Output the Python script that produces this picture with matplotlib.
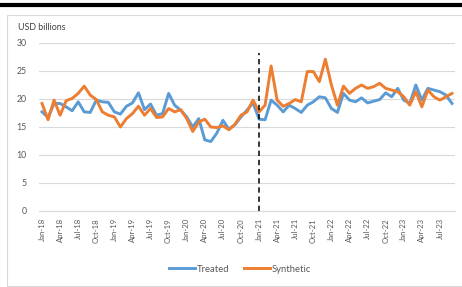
import matplotlib
matplotlib.use("Agg")
import matplotlib.pyplot as plt
from matplotlib.lines import Line2D
from matplotlib.patches import Rectangle
import pandas as pd

months = pd.date_range("2018-01-01", "2023-09-01", freq="MS")
month_labels = [d.strftime("%b-%y") for d in months]

treated = [17.7, 16.7, 19.2, 19.2, 18.6, 17.9, 19.5, 17.7, 17.6, 19.8, 19.5, 19.4,
           17.7, 17.3, 18.7, 19.3, 21.1, 18.1, 19.1, 17.1, 17.4, 21.0, 18.9, 18.0,
           16.8, 15.0, 16.5, 12.7, 12.4, 13.9, 16.2, 14.6, 15.4, 16.8, 18.0, 19.3,
           16.4, 16.3, 19.8, 18.9, 17.7, 18.9, 18.3, 17.6, 18.9, 19.5, 20.4, 20.2,
           18.3, 17.6, 21.0, 19.8, 19.5, 20.2, 19.3, 19.6, 19.9, 21.1, 20.4, 21.9,
           19.8, 19.2, 22.5, 19.8, 21.9, 21.6, 21.3, 20.7, 19.2]
synthetic = [19.2, 16.3, 19.8, 17.1, 19.7, 20.1, 21.0, 22.3, 20.7, 19.9, 17.7, 17.1,
             16.8, 15.0, 16.5, 17.4, 18.7, 17.1, 18.3, 16.7, 16.8, 18.3, 17.7, 18.1,
             16.5, 14.2, 15.9, 16.4, 15.0, 14.9, 15.2, 14.5, 15.5, 17.1, 17.7, 19.8,
             17.7, 18.9, 25.9, 19.8, 18.7, 19.2, 19.9, 19.5, 24.9, 24.9, 23.1, 27.1,
             22.5, 18.9, 22.3, 21.0, 21.9, 22.5, 21.9, 22.2, 22.8, 21.9, 21.6, 21.3,
             20.4, 18.9, 21.3, 18.6, 21.6, 20.4, 19.8, 20.4, 21.0]
treatment_start = "Jan-21"
series_names = ["Treated", "Synthetic"]
y_ticks = [0, 5, 10, 15, 20, 25, 30]

W, H = 462, 287
fig = plt.figure(figsize=(W / 100, H / 100), dpi=100)
plt.rcParams['font.family'] = ['Lato', 'DejaVu Sans']

# outer chart border and top black bar
fig.patches.append(Rectangle((7 / W, 1 - 286 / H), (W + 5 - 7) / W, (286 - 15) / H,
                             transform=fig.transFigure, fill=False,
                             edgecolor="#d9d9d9", linewidth=0.8))
fig.lines.append(Line2D([0, 1], [1 - 5 / H, 1 - 5 / H], transform=fig.transFigure,
                        color="black", linewidth=3))

ax = fig.add_axes([39 / W, 1 - 211 / H, (455 - 39) / W, (211 - 43) / H])
x = list(range(len(months)))
ax.plot(x, treated, color="#5B9BD5", linewidth=2.1, label=series_names[0],
        solid_joinstyle="round")
ax.plot(x, synthetic, color="#ED7D31", linewidth=2.1, label=series_names[1],
        solid_joinstyle="round")

xi = month_labels.index(treatment_start)
ax.plot([xi, xi], [0, 28.3], color="black", linewidth=1.1, linestyle=(0, (3.5, 2.5)))

ax.set_xlim(-0.5, len(months) - 0.5)
ax.set_ylim(0, 30)
ax.set_yticks(y_ticks)
ax.set_xticks(x[::3])
ax.set_xticklabels(month_labels[::3], rotation=90, fontsize=5.6, color="#595959")
ax.tick_params(axis="y", length=0, pad=9, labelsize=6.3, labelcolor="#595959")
ax.tick_params(axis="x", length=0, pad=5)
ax.grid(axis="y", color="#d9d9d9", linewidth=0.8)
ax.set_axisbelow(True)
for s in ["top", "right", "left"]:
    ax.spines[s].set_visible(False)
ax.spines["bottom"].set_color("#d9d9d9")
ax.spines["bottom"].set_linewidth(0.8)

fig.text(18 / W, 1 - 28 / H, "USD billions", fontsize=6.4, color="#404040",
         va="center", ha="left")

fig.legend(loc="center", bbox_to_anchor=(240 / W, 1 - 269 / H), ncol=2,
           frameon=False, fontsize=6.8, handlelength=2.8, handletextpad=0.2,
           columnspacing=1.5, labelcolor="#595959")

fig.savefig("out.png", dpi=100)
